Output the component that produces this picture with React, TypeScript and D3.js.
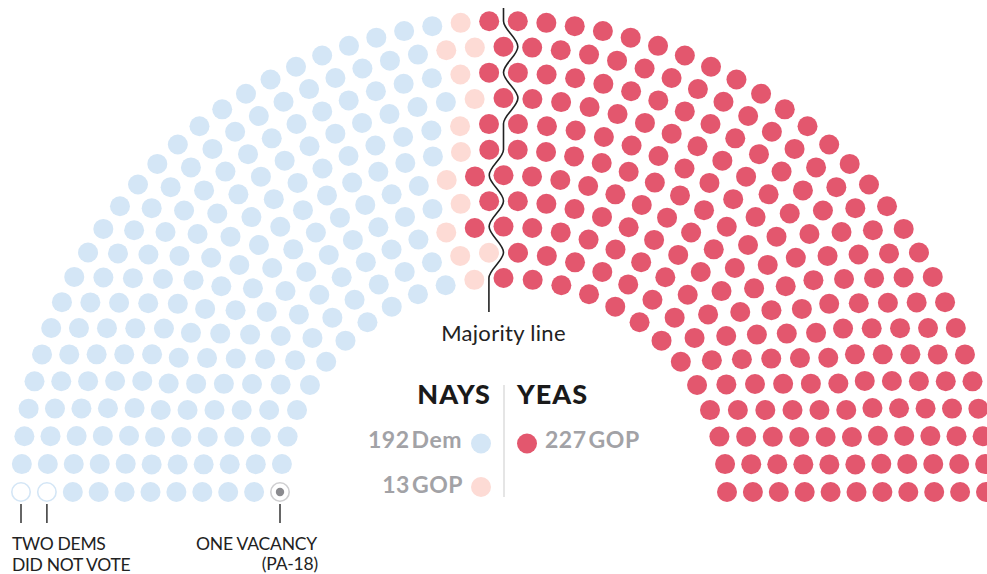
import * as d3 from "d3";

// seats per ring, inner ring first
const ringSeats = [25, 28, 31, 34, 37, 40, 42, 45, 48, 51, 54];
// how each ring is split, read left to right along the ring
const vacancyByRing = [1, 0, 0, 0, 0, 0, 0, 0, 0, 0, 0];
const notVotingByRing = [0, 0, 0, 0, 0, 0, 0, 0, 0, 1, 1];
const demNayByRing = [10, 12, 13, 15, 16, 18, 19, 21, 22, 22, 24];
const gopNayByRing = [1, 2, 1, 1, 1, 1, 1, 1, 1, 2, 1];
const gopYeaByRing = [13, 14, 17, 18, 20, 21, 22, 23, 25, 26, 28];
// seats left of the majority line in each ring
const majorityLeftByRing = [12, 14, 15, 17, 18, 20, 21, 23, 24, 26, 27];

const groups = ["vacancy", "notVoting", "demNay", "gopNay", "gopYea"];
const groupByRing = [vacancyByRing, notVotingByRing, demNayByRing, gopNayByRing, gopYeaByRing];

const colors = {
  demNay: "#d4e6f6",
  gopNay: "#fddbd5",
  gopYea: "#e3576e",
};

const W = 987;
const H = 574;
const cx = 503.5;
const cy = 492;
const dotR = 10;

const rx = d3.scaleLinear().domain([0, ringSeats.length - 1]).range([223.5, 482.5]);
const ry = d3.scaleLinear().domain([0, ringSeats.length - 1]).range([214, 471]);

type Seat = { ring: number; idx: number; x: number; y: number; group: string };

function seatXY(ring: number, i: number) {
  const n = ringSeats[ring];
  const a = d3.scaleLinear().domain([0, n - 1]).range([Math.PI, 0])(i);
  return [cx + rx(ring) * Math.cos(a), cy - ry(ring) * Math.sin(a)];
}

function buildSeats(): Seat[] {
  const seats: Seat[] = [];
  ringSeats.forEach((n, ring) => {
    const order: string[] = [];
    groups.forEach((g, gi) => {
      for (let k = 0; k < groupByRing[gi][ring]; k++) order.push(g);
    });
    for (let i = 0; i < n; i++) {
      const [x, y] = seatXY(ring, i);
      seats.push({ ring, idx: i, x, y, group: order[i] });
    }
  });
  return seats;
}

const seats = buildSeats();

// points for the wavy majority line, outer ring at the top
const majorityPts: [number, number][] = [];
for (let ring = ringSeats.length - 1; ring >= 0; ring--) {
  const left = seatXY(ring, majorityLeftByRing[ring] - 1);
  const right = seatXY(ring, majorityLeftByRing[ring]);
  majorityPts.push([(left[0] + right[0]) / 2, cy - ry(ring)]);
}
majorityPts.unshift([majorityPts[0][0], 8]);
majorityPts.push([majorityPts[majorityPts.length - 1][0], 312]);

const majorityPath = d3.line().curve(d3.curveMonotoneY)(majorityPts) || "";

const totalDem = d3.sum(demNayByRing);
const totalGopNay = d3.sum(gopNayByRing);
const totalGopYea = d3.sum(gopYeaByRing);

const font = "Lato, 'Noto Sans', sans-serif";

export default function App() {
  const nv = seats.filter((s) => s.group === "notVoting");
  const vac = seats.filter((s) => s.group === "vacancy");
  return (
    <svg
      width={W}
      height={H}
      style={{ position: "absolute", left: 0, top: 0, display: "block", background: "#fff" }}
      fontFamily={font}
    >
      {seats.map((s, i) => {
        if (s.group === "notVoting") {
          return <circle key={i} cx={s.x} cy={s.y} r={dotR - 0.8} fill="#fff" stroke="#d4e6f6" strokeWidth={1.6} />;
        }
        if (s.group === "vacancy") {
          return (
            <g key={i}>
              <circle cx={s.x} cy={s.y} r={dotR - 0.8} fill="#fff" stroke="#cfcfd1" strokeWidth={1.6} />
              <circle cx={s.x} cy={s.y} r={4.2} fill="#8b8b8f" />
            </g>
          );
        }
        return <circle key={i} cx={s.x} cy={s.y} r={dotR} fill={(colors as any)[s.group]} />;
      })}

      <path d={majorityPath} fill="none" stroke="#222" strokeWidth={1.6} />
      <text x={cx} y={341} textAnchor="middle" fontSize={22} fill="#222" letterSpacing={0.3}>
        Majority line
      </text>

      {/* annotation ticks */}
      {nv.concat(vac).map((s, i) => (
        <line key={i} x1={s.x} x2={s.x} y1={cy + 12} y2={cy + 31} stroke="#333" strokeWidth={1.5} />
      ))}
      <text x={12} y={550} fontSize={17.5} fill="#222" letterSpacing={-0.3}>
        TWO DEMS
      </text>
      <text x={12} y={571} fontSize={17.5} fill="#222" letterSpacing={-0.3}>
        DID NOT VOTE
      </text>
      <text x={317} y={550} fontSize={17.5} fill="#222" letterSpacing={-0.2} textAnchor="end">
        ONE VACANCY
      </text>
      <text x={318} y={570} fontSize={17.5} fill="#222" letterSpacing={-0.2} textAnchor="end">
        (PA-18)
      </text>

      {/* legend */}
      <line x1={504} x2={504} y1={385} y2={497} stroke="#dcdcdc" strokeWidth={1.5} />
      <text x={491} y={404} textAnchor="end" fontSize={27} fontWeight={900} fill="#1a1a1a" letterSpacing={1}>
        NAYS
      </text>
      <text x={517} y={404} fontSize={27} fontWeight={900} fill="#1a1a1a" letterSpacing={1}>
        YEAS
      </text>

      <text x={462} y={448} textAnchor="end" fontSize={23} fontWeight={700} fill="#a2a2a6" letterSpacing={0.5} wordSpacing={-4}>
        {totalDem} Dem
      </text>
      <circle cx={481} cy={443.5} r={dotR} fill={colors.demNay} />
      <text x={463} y={493} textAnchor="end" fontSize={23} fontWeight={700} fill="#a2a2a6" letterSpacing={0.5} wordSpacing={-4}>
        {totalGopNay} GOP
      </text>
      <circle cx={481} cy={487} r={dotR} fill={colors.gopNay} />
      <circle cx={527} cy={443.5} r={dotR} fill={colors.gopYea} />
      <text x={545} y={448} fontSize={23} fontWeight={700} fill="#a2a2a6" letterSpacing={0.5} wordSpacing={-4}>
        {totalGopYea} GOP
      </text>
    </svg>
  );
}
